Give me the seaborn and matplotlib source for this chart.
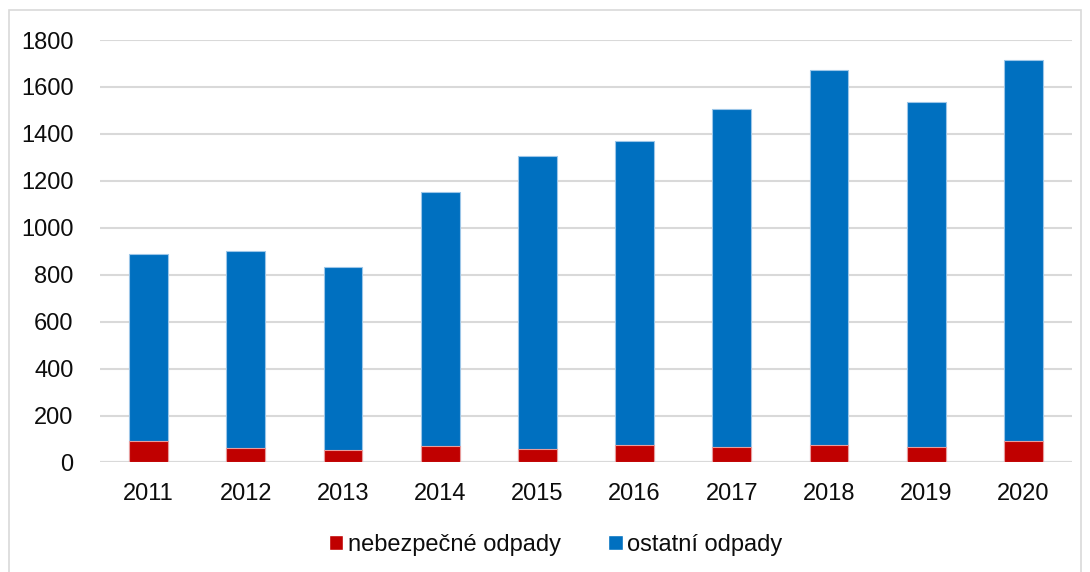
import pandas as pd
import seaborn as sns
import matplotlib.pyplot as plt
from matplotlib.patches import Patch, Rectangle

years = ['2011', '2012', '2013', '2014', '2015', '2016', '2017', '2018', '2019', '2020']
nebezpecne = [93, 63, 53, 69, 56, 73, 67, 73, 67, 90]
ostatni = [797, 840, 780, 1083, 1250, 1296, 1441, 1600, 1468, 1624]

red = '#C00000'
blue = '#0070C0'

df = pd.DataFrame({'rok': years, 'nebezpecne': nebezpecne, 'ostatni': ostatni})
df['celkem'] = df['nebezpecne'] + df['ostatni']

sns.set_theme(style='white')
plt.rcParams['font.family'] = ['Liberation Sans', 'DejaVu Sans']

fig = plt.figure(figsize=(10.9, 5.72), dpi=100)
ax = fig.add_axes([0.0917, 0.1915, 0.8918, 0.7385])

# stacked: total in blue, hazardous in red drawn over the bottom
sns.barplot(data=df, x='rok', y='celkem', color=blue, width=0.4, saturation=1,
            edgecolor='#9cc6e8', linewidth=0.8, ax=ax, zorder=2)
sns.barplot(data=df, x='rok', y='nebezpecne', color=red, width=0.4, saturation=1,
            edgecolor='#e89c9c', linewidth=0.8, ax=ax, zorder=3)

ax.set_ylim(0, 1800)
ax.set_yticks(range(0, 1801, 200))
ax.set_xlim(-0.5, len(years) - 0.5)
ax.set_xlabel('')
ax.set_ylabel('')
ax.yaxis.grid(True, color='#d9d9d9', linewidth=1.5)
ax.set_axisbelow(True)
for s in ax.spines.values():
    s.set_visible(False)
ax.axhline(0, color='#d9d9d9', linewidth=1.5, zorder=1)
txt = '#0d0d0d'
ax.tick_params(axis='y', length=0, pad=19, labelsize=17, labelcolor=txt)
ax.tick_params(axis='x', length=0, pad=15, labelsize=17, labelcolor=txt)

handles = [Patch(facecolor=red, label='nebezpečné odpady'),
           Patch(facecolor=blue, label='ostatní odpady')]
fig.legend(handles=handles, loc='center', bbox_to_anchor=(0.51, 0.047), ncol=2,
           frameon=False, fontsize=17, handlelength=0.6, handleheight=0.6,
           handletextpad=0.2, columnspacing=2.0, labelcolor=txt)

fig.patches.append(Rectangle((9 / 1090, -0.01), 1072 / 1090, 1 - 10 / 572 + 0.01,
                             transform=fig.transFigure, fill=False,
                             edgecolor='#d9d9d9', linewidth=1.2))

fig.savefig('out.png', dpi=100)
